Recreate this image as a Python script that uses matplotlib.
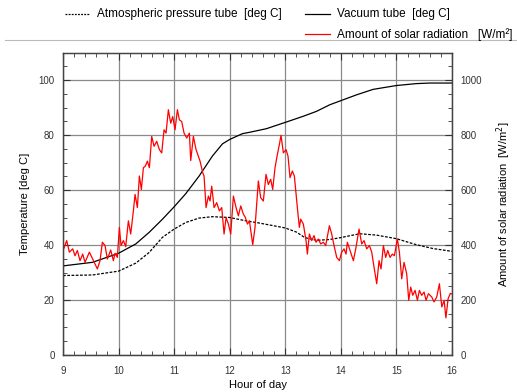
import matplotlib
matplotlib.use("Agg")
import matplotlib.pyplot as plt
from matplotlib.lines import Line2D
from matplotlib.ticker import MultipleLocator

plt.rcParams['font.family'] = ['Liberation Sans', 'DejaVu Sans']

# temperatures [deg C]
v_hour = [9.0, 9.53, 10.0, 10.31, 10.55, 10.79, 11.0, 11.21, 11.45, 11.69, 11.87, 12.0,
          12.23, 12.36, 12.66, 13.0, 13.32, 13.56, 13.8, 14.0, 14.28, 14.58, 15.0, 15.36,
          15.6, 16.0]
vacuum = [32.4, 33.7, 37.0, 40.4, 44.6, 49.4, 53.9, 58.7, 65.1, 72.4, 76.8, 78.4,
          80.5, 81.0, 82.3, 84.6, 86.8, 88.6, 91.0, 92.5, 94.6, 96.6, 98.0, 98.7,
          98.9, 98.9]
a_hour = [9.0, 9.53, 10.0, 10.31, 10.55, 10.79, 11.0, 11.21, 11.45, 11.69, 12.0, 12.29,
          12.53, 12.66, 13.0, 13.2, 13.35, 13.56, 13.8, 14.0, 14.34, 14.64, 15.0, 15.36,
          15.66, 16.0]
atmos = [28.9, 29.1, 30.5, 33.4, 37.3, 42.8, 45.8, 48.2, 49.8, 50.3, 50.0, 48.8,
         48.0, 47.5, 46.2, 44.7, 42.7, 41.7, 42.0, 42.7, 44.1, 43.6, 42.3, 40.1,
         38.7, 37.7]

# solar radiation [W/m2]
r_hour = [9.000, 9.066, 9.114, 9.174, 9.216, 9.258, 9.306, 9.354, 9.396, 9.474,
          9.534, 9.618, 9.666, 9.708, 9.756, 9.798, 9.858, 9.906, 9.936, 9.978,
          10.014, 10.044, 10.086, 10.128, 10.176, 10.218, 10.266, 10.296, 10.338, 10.374,
          10.410, 10.446, 10.482, 10.518, 10.554, 10.596, 10.638, 10.686, 10.734, 10.776,
          10.818, 10.854, 10.896, 10.938, 10.974, 11.016, 11.058, 11.094, 11.136, 11.178,
          11.226, 11.274, 11.298, 11.346, 11.394, 11.436, 11.466, 11.514, 11.538, 11.574,
          11.616, 11.646, 11.676, 11.718, 11.766, 11.814, 11.856, 11.898, 11.934, 11.976,
          12.018, 12.066, 12.114, 12.156, 12.198, 12.246, 12.282, 12.318, 12.354, 12.414,
          12.455, 12.515, 12.557, 12.605, 12.653, 12.695, 12.737, 12.773, 12.815, 12.857,
          12.893, 12.923, 12.965, 13.013, 13.049, 13.085, 13.127, 13.163, 13.217, 13.253,
          13.277, 13.325, 13.373, 13.397, 13.433, 13.475, 13.517, 13.553, 13.595, 13.637,
          13.685, 13.727, 13.793, 13.835, 13.877, 13.925, 13.973, 14.015, 14.057, 14.093,
          14.117, 14.165, 14.225, 14.273, 14.327, 14.375, 14.417, 14.465, 14.513, 14.555,
          14.597, 14.645, 14.687, 14.723, 14.765, 14.807, 14.843, 14.885, 14.927, 14.963,
          15.017, 15.053, 15.095, 15.137, 15.185, 15.221, 15.257, 15.293, 15.335, 15.377,
          15.413, 15.455, 15.497, 15.533, 15.575, 15.635, 15.677, 15.725, 15.773, 15.816,
          15.858, 15.89, 15.93, 15.97, 16.0]
solar = [380, 416, 374, 386, 361, 380, 343, 367, 337, 374,
         349, 313, 343, 410, 398, 349, 382, 343, 370, 355,
         464, 398, 416, 394, 488, 440, 524, 584, 536, 651,
         602, 681, 687, 705, 681, 795, 759, 777, 747, 735,
         819, 807, 892, 843, 867, 819, 892, 855, 849, 807,
         789, 807, 707, 795, 747, 723, 705, 663, 651, 536,
         578, 560, 614, 536, 554, 524, 536, 440, 500, 476,
         440, 578, 536, 506, 542, 512, 500, 476, 488, 401,
         464, 633, 572, 560, 657, 620, 639, 602, 681, 729,
         765, 799, 735, 747, 723, 645, 669, 651, 536, 464,
         494, 476, 416, 367, 440, 416, 434, 410, 422, 404,
         410, 398, 470, 440, 398, 355, 343, 374, 386, 367,
         410, 380, 343, 392, 458, 404, 416, 386, 398, 374,
         319, 259, 343, 313, 398, 355, 380, 355, 367, 361,
         422, 374, 277, 337, 295, 199, 247, 217, 235, 199,
         235, 217, 229, 199, 223, 211, 193, 211, 259, 175,
         199, 135, 205, 224, 222]

fig = plt.figure(figsize=(5.17, 3.92), dpi=100)
ax = fig.add_axes([0.1219, 0.0944, 0.7524, 0.7716])
ax2 = ax.twinx()

ax.plot(a_hour, atmos, color='black', lw=0.9, ls=(0, (2.2, 1.2)))
ax.plot(v_hour, vacuum, color='black', lw=0.9)
ax2.plot(r_hour, solar, color='red', lw=0.9)

ax.set_xlim(9, 16)
ax.set_ylim(0, 110)
ax2.set_ylim(0, 1100)
ax.xaxis.set_major_locator(MultipleLocator(1))
ax.xaxis.set_minor_locator(MultipleLocator(0.2))
ax.yaxis.set_minor_locator(MultipleLocator(5))
ax2.yaxis.set_minor_locator(MultipleLocator(50))
ax.set_yticks([0, 20, 40, 60, 80, 100])
ax2.set_yticks([0, 200, 400, 600, 800, 1000])

ax.grid(True, which='major', color='#8a8a8a', lw=0.9)
ax.tick_params(which='both', direction='in', top=True, right=False, labelsize=7, colors='#333333')
ax.tick_params(axis='x', pad=8)
ax.tick_params(axis='y', pad=6)
ax.tick_params(which='major', length=5)
ax.tick_params(which='minor', length=3)
ax2.tick_params(which='both', direction='in', labelsize=7, colors='#333333', pad=6)
ax2.tick_params(which='major', length=5)
ax2.tick_params(which='minor', length=3)
for a in (ax, ax2):
    for s in a.spines.values():
        s.set_color('#444444')
        s.set_linewidth(0.9)

ax.set_xlabel('Hour of day', fontsize=8, labelpad=3)
ax.set_ylabel('Temperature [deg C]', fontsize=8, labelpad=6)
ax2.set_ylabel('Amount of solar radiation  [W/m$^2$]', fontsize=8, labelpad=9)

# legend drawn on the figure
fig.add_artist(Line2D([0.126, 0.174], [0.964, 0.964], color='black', lw=0.9, ls=(0, (1.5, 1))))
fig.text(0.188, 0.964, 'Atmospheric pressure tube  [deg C]', fontsize=8.5, va='center')
fig.add_artist(Line2D([0.59, 0.638], [0.964, 0.964], color='black', lw=0.9))
fig.text(0.652, 0.964, 'Vacuum tube  [deg C]', fontsize=8.5, va='center')
fig.add_artist(Line2D([0.59, 0.638], [0.913, 0.913], color='red', lw=0.9))
fig.text(0.652, 0.913, 'Amount of solar radiation   [W/m\u00b2]', fontsize=8.5, va='center')
fig.add_artist(Line2D([0.01, 1.0], [0.897, 0.897], color='#bbbbbb', lw=0.8))

fig.savefig('out.png', dpi=100)
